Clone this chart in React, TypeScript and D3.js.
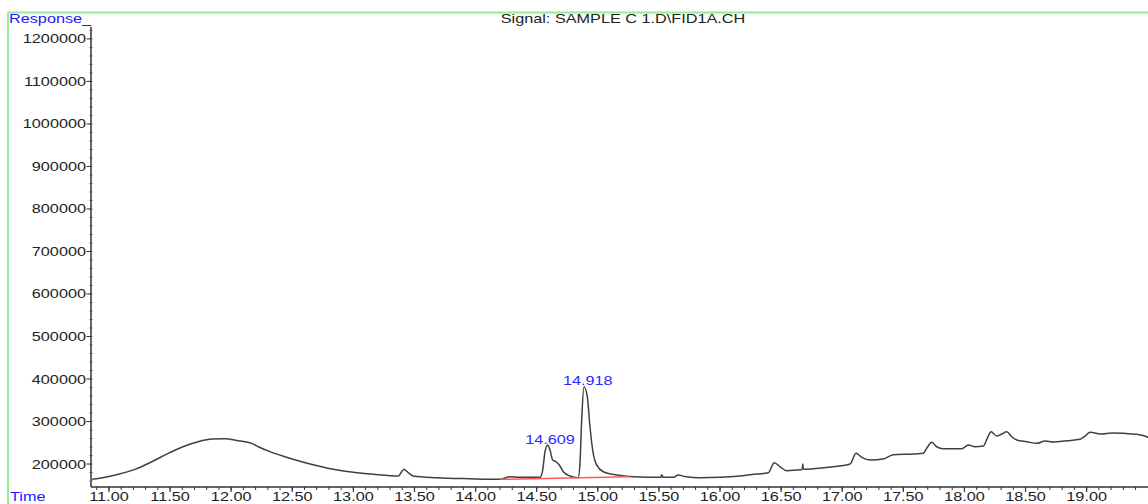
import React from "react";
import * as d3 from "d3";

const title = "Signal: SAMPLE C 1.D\\FID1A.CH";
const yAxisTitle = "Response_";
const xAxisTitle = "Time";

const times = [10.863, 10.967, 11.076, 11.213, 11.35, 11.485, 11.622, 11.731, 11.841, 11.949, 12.058, 12.168, 12.222, 12.332, 12.44, 12.577, 12.713, 12.836, 12.999, 13.163, 13.368, 13.395, 13.414, 13.441, 13.49, 13.682, 13.954, 14.2, 14.282, 14.363, 14.527, 14.549, 14.568, 14.59, 14.609, 14.631, 14.658, 14.685, 14.718, 14.773, 14.84, 14.854, 14.868, 14.887, 14.914, 14.936, 14.958, 14.991, 15.045, 15.155, 15.291, 15.515, 15.524, 15.533, 15.618, 15.659, 15.714, 15.836, 16.0, 16.164, 16.3, 16.395, 16.444, 16.491, 16.546, 16.628, 16.672, 16.677, 16.682, 16.763, 16.927, 17.064, 17.113, 17.16, 17.228, 17.336, 17.418, 17.582, 17.664, 17.691, 17.732, 17.773, 17.827, 17.978, 18.032, 18.087, 18.155, 18.187, 18.218, 18.264, 18.305, 18.346, 18.387, 18.428, 18.51, 18.592, 18.659, 18.727, 18.837, 18.946, 18.987, 19.028, 19.123, 19.205, 19.3, 19.41, 19.492, 19.52];

const responses = [164000, 168700, 175800, 187500, 205400, 225200, 242400, 252500, 258800, 259500, 254800, 248700, 240700, 227500, 217200, 205400, 195300, 187500, 180500, 175800, 171800, 181900, 187500, 181900, 171800, 167800, 165400, 164000, 170100, 168700, 168700, 185900, 228900, 244700, 232900, 209400, 205400, 197600, 181900, 171800, 167800, 201600, 303500, 381900, 358400, 287800, 232900, 197600, 181900, 174100, 170100, 168700, 175000, 168700, 168700, 174100, 170600, 167800, 168700, 171800, 176500, 179500, 203100, 193600, 184200, 185900, 187000, 200000, 187500, 188900, 193600, 200000, 225200, 215800, 209400, 211800, 221900, 223500, 225200, 236900, 251100, 240700, 236000, 236000, 244700, 240700, 242400, 260500, 276000, 265900, 270600, 276000, 264200, 256500, 252500, 248700, 254100, 251800, 254800, 258100, 265900, 274600, 270600, 272900, 272200, 269900, 264200, 258800];

const baselineTimes = [14.2, 15.264];
const baselineValues = [164000, 170100];

const peakTimes = [14.609, 14.918];
const peakApexValues = [244700, 381900];
const peakLabels = ["14.609", "14.918"];

const yTickValues = [200000, 300000, 400000, 500000, 600000, 700000, 800000, 900000, 1000000, 1100000, 1200000];
const xTickValues = [11.0, 11.5, 12.0, 12.5, 13.0, 13.5, 14.0, 14.5, 15.0, 15.5, 16.0, 16.5, 17.0, 17.5, 18.0, 18.5, 19.0];

const W = 1148;
const H = 504;
const FONT = "'Liberation Sans', Arial, sans-serif";
const FS = 12.5;
const STRETCH = 1.3;

export default function App() {
  const x = d3.scaleLinear().domain([10.853, 19.502]).range([91, 1148]);
  const y = d3.scaleLinear().domain([146000, 1228000]).range([487, 27]);

  const pts: [number, number][] = times.map((t, i) => [t, responses[i]]);
  const line = d3
    .line<[number, number]>()
    .x((d) => x(d[0]))
    .y((d) => y(d[1]))
    .curve(d3.curveMonotoneX);

  const minorX = d3.range(109, 195).map((v) => v / 10).filter((t) => t >= 10.9 && t <= 19.5);
  const minorY = d3.range(8, 62).map((v) => v * 20000).filter((v) => v >= 160000 && v <= 1220000);

  const txt = (
    key: string,
    s: string,
    tx: number,
    ty: number,
    anchor: string,
    fill: string
  ) => (
    <text
      key={key}
      transform={`translate(${tx},${ty}) scale(${STRETCH},1)`}
      textAnchor={anchor as any}
      fontFamily={FONT}
      fontSize={FS}
      fill={fill}
    >
      {s}
    </text>
  );

  return (
    <svg
      width={W}
      height={H}
      style={{ position: "absolute", left: 0, top: 0, background: "#fff" }}
    >
      <rect x={0} y={0} width={W} height={H} fill="#fff" />
      {/* green frame */}
      <line x1={8} y1={12.5} x2={W} y2={12.5} stroke="#92ee92" strokeWidth={2} />
      <line x1={8} y1={12.5} x2={8} y2={H} stroke="#92ee92" strokeWidth={2} />

      {txt("rt", yAxisTitle, 9, 22.5, "start", "#1a1aff")}
      {txt("tt", title, 623, 23, "middle", "#222")}
      {txt("xt", xAxisTitle, 10, 500.5, "start", "#1a1aff")}

      {/* y axis */}
      <line x1={91} y1={27} x2={91} y2={487} stroke="#333" strokeWidth={1.5} />
      {minorY.map((v) => (
        <line key={"my" + v} x1={89.5} x2={92.5} y1={y(v)} y2={y(v)} stroke="#555" strokeWidth={1} />
      ))}
      {yTickValues.map((v) => (
        <g key={"y" + v}>
          <line x1={86.5} x2={91} y1={y(v)} y2={y(v)} stroke="#333" strokeWidth={1} />
          {txt("yl" + v, String(v), 86, y(v) + 4.5, "end", "#222")}
        </g>
      ))}

      {/* x axis */}
      <line x1={91} y1={487} x2={W} y2={487} stroke="#333" strokeWidth={1.5} />
      {minorX.map((t) => (
        <line key={"mx" + t} x1={x(t)} x2={x(t)} y1={487} y2={490} stroke="#333" strokeWidth={1} />
      ))}
      {xTickValues.map((t) => (
        <g key={"x" + t}>
          <line x1={x(t)} x2={x(t)} y1={487} y2={492} stroke="#333" strokeWidth={1.2} />
          {txt("xl" + t, t.toFixed(2), x(t), 500.5, "middle", "#222")}
        </g>
      ))}

      <defs>
        <clipPath id="plotclip">
          <rect x={91} y={27} width={W - 91} height={460} />
        </clipPath>
      </defs>
      <g clipPath="url(#plotclip)">
        <path d={line(pts) || ""} fill="none" stroke="#404040" strokeWidth={1.5} />
        <line
          x1={x(baselineTimes[0])}
          y1={y(baselineValues[0])}
          x2={x(baselineTimes[1])}
          y2={y(baselineValues[1])}
          stroke="#ff5a5a"
          strokeWidth={1.5}
        />
      </g>

      {peakTimes.map((t, i) =>
        txt("pk" + i, peakLabels[i], x(t), y(peakApexValues[i]) - 1.5, "middle", "#2a2aff")
      )}
    </svg>
  );
}
